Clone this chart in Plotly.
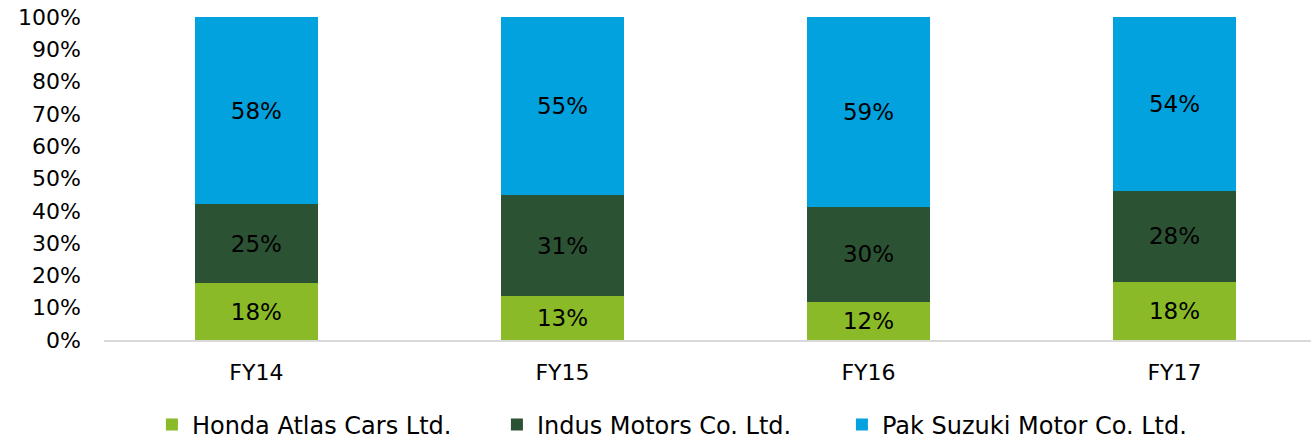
import plotly.graph_objects as go

categories = ["FY14", "FY15", "FY16", "FY17"]
honda = [17.6, 13.6, 11.8, 18.0]
indus = [24.5, 31.3, 29.4, 28.1]
suzuki = [57.9, 55.1, 58.8, 53.9]
honda_labels = ["18%", "13%", "12%", "18%"]
indus_labels = ["25%", "31%", "30%", "28%"]
suzuki_labels = ["58%", "55%", "59%", "54%"]
series_names = ["Honda Atlas Cars Ltd.", "Indus Motors Co. Ltd.", "Pak Suzuki Motor Co. Ltd."]
colors = ["#8aba27", "#2c5234", "#02a2df"]
ytick_vals = [0, 10, 20, 30, 40, 50, 60, 70, 80, 90, 100]
ytick_text = [f"{v}%" for v in ytick_vals]

FONT = "DejaVu Sans"
fig = go.Figure()
for name, vals, labels, col in zip(series_names, [honda, indus, suzuki],
                                   [honda_labels, indus_labels, suzuki_labels], colors):
    fig.add_trace(go.Bar(
        x=categories, y=vals, name=name, marker=dict(color=col, line=dict(width=0)),
        text=labels, textposition="inside", insidetextanchor="middle",
        textfont=dict(color="black", size=23, family=FONT), textangle=0,
        hoverinfo="skip",
    ))

fig.update_layout(
    barmode="stack", barnorm="percent", bargap=0.6,
    width=1311, height=439,
    margin=dict(l=104, r=0, t=17, b=99, autoexpand=False),
    paper_bgcolor="white", plot_bgcolor="white",
    font=dict(family=FONT, size=22, color="black"),
    xaxis=dict(range=[-0.498, 3.446], showline=True, linecolor="#d9d9d9", linewidth=2,
               ticks="", showgrid=False, tickfont=dict(size=22, family=FONT),
               ticklabelstandoff=12),
    yaxis=dict(range=[0, 100], tickvals=ytick_vals, ticktext=ytick_text, showgrid=False,
               zeroline=False, showline=False, ticks="", ticklabelstandoff=22,
               ticklabeloverflow="allow",
               tickfont=dict(size=22, family=FONT)),
    legend=dict(orientation="h", x=0.0397, xanchor="left", y=-0.263, yanchor="middle",
                font=dict(size=24, family=FONT), traceorder="normal", itemwidth=30,
                entrywidth=300, entrywidthmode="pixels"),
    showlegend=True,
)
fig.write_html("out.html", config={"displayModeBar": False},
               post_script="document.body.style.margin='0';document.body.style.overflow='hidden';")
